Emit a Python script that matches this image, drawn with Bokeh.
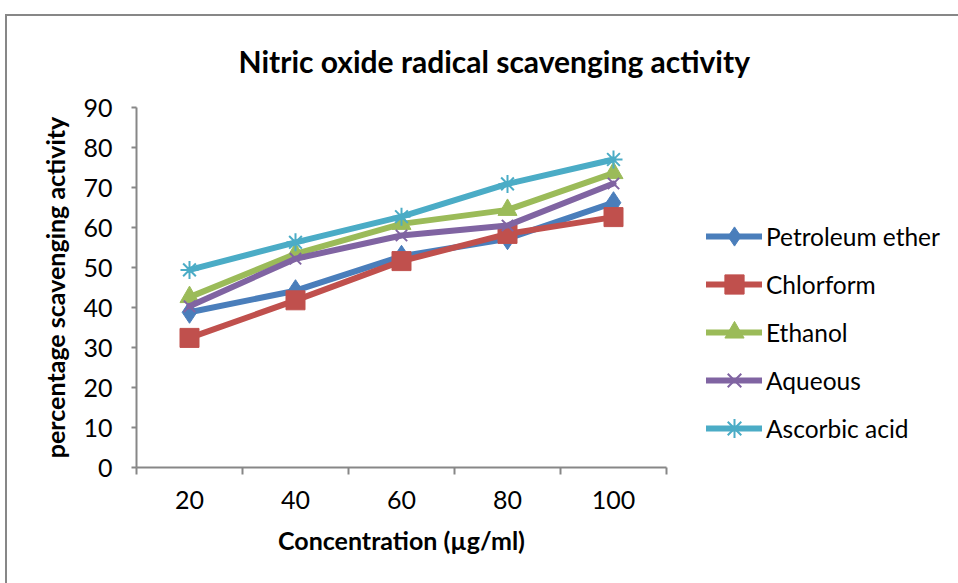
from bokeh.plotting import figure
from bokeh.models import Range1d, FixedTicker, Legend, LegendItem, Title
from bokeh.embed import file_html
from bokeh.resources import INLINE

categories = ["20", "40", "60", "80", "100"]
petroleum_ether = [38.8, 44.2, 52.8, 57.2, 66.2]
chlorform = [32.4, 41.8, 51.6, 58.4, 62.6]
ethanol = [42.6, 53.4, 60.9, 64.4, 73.6]
aqueous = [40.3, 52.2, 58.0, 60.5, 71.0]
ascorbic_acid = [49.4, 56.3, 62.7, 70.9, 77.0]
y_ticks = [0, 10, 20, 30, 40, 50, 60, 70, 80, 90]

FONT = "Lato"
xs = [i + 0.5 for i in range(len(categories))]

p = figure(frame_width=530, frame_height=360, output_backend="svg", toolbar_location=None,
           x_range=Range1d(0, len(categories)), y_range=Range1d(0, 90),
           min_border_left=129, min_border_top=91, min_border_right=0, min_border_bottom=116)
p.styles = {"margin-left": "5px", "margin-top": "14px",
            "border-left": "2px solid #878787", "border-top": "2px solid #878787"}
p.outline_line_color = None
p.grid.visible = False
p.background_fill_color = "white"
p.border_fill_color = "white"

# axes
p.xaxis.ticker = FixedTicker(ticks=xs, minor_ticks=list(range(len(categories) + 1)))
p.xaxis.major_label_overrides = {x: c for x, c in zip(xs, categories)}
p.xaxis.major_tick_out = 0
p.xaxis.major_tick_in = 0
p.xaxis.minor_tick_out = 7
p.xaxis.minor_tick_in = 0
p.yaxis.ticker = FixedTicker(ticks=y_ticks, minor_ticks=[])
p.yaxis.major_tick_out = 5
p.yaxis.major_tick_in = 0
for ax in (p.xaxis, p.yaxis):
    ax.axis_line_color = "#878787"
    ax.axis_line_width = 2
    ax.major_tick_line_color = "#878787"
    ax.major_tick_line_width = 2
    ax.minor_tick_line_color = "#878787"
    ax.minor_tick_line_width = 2
    ax.major_label_text_font = FONT
    ax.major_label_text_font_size = "25px"
    ax.major_label_text_color = "black"
    ax.axis_label_text_font = FONT
    ax.axis_label_text_font_style = "bold"
    ax.axis_label_text_font_size = "25px"
    ax.axis_label_text_color = "black"
p.xaxis.major_label_standoff = 16
p.yaxis.major_label_standoff = 19
p.xaxis.axis_label = "Concentration (µg/ml)"
p.yaxis.axis_label = "percentage scavenging activity"
p.xaxis.axis_label_standoff = 13
p.yaxis.axis_label_standoff = 10

series = [
    ("Petroleum ether", petroleum_ether, "#4a7ebb", "diamond", 22),
    ("Chlorform", chlorform, "#c0504d", "square", 19),
    ("Ethanol", ethanol, "#9bbb59", "triangle", 19),
    ("Aqueous", aqueous, "#8064a2", "x", 16),
    ("Ascorbic acid", ascorbic_acid, "#4bacc6", "asterisk", 18),
]
items = []
for name, vals, color, marker, size in series:
    r1 = p.line(xs, vals, line_color=color, line_width=6, line_join="round", line_cap="round")
    if marker in ("x", "asterisk"):
        r2 = p.scatter(xs, vals, marker=marker, size=size, line_color=color, line_width=2, fill_color=None)
    else:
        r2 = p.scatter(xs, vals, marker=marker, size=size, line_color=color, fill_color=color)
    items.append(LegendItem(label=name, renderers=[r1, r2]))

legend = Legend(items=items, location=(40, 15), orientation="vertical",
                glyph_width=56, glyph_height=48, label_height=48, spacing=0,
                label_standoff=4, padding=0, margin=0,
                label_text_font=FONT, label_text_font_size="24.5px", label_text_color="black",
                border_line_color=None, background_fill_alpha=0)
p.add_layout(legend, "right")

title = Title(text="Nitric oxide radical scavenging activity", align="left", offset=102,
              text_font=FONT, text_font_style="bold", text_font_size="30px",
              text_color="black", standoff=53, vertical_align="top")
p.add_layout(title, "above")

open("out.html", "w").write(file_html(p, INLINE))
